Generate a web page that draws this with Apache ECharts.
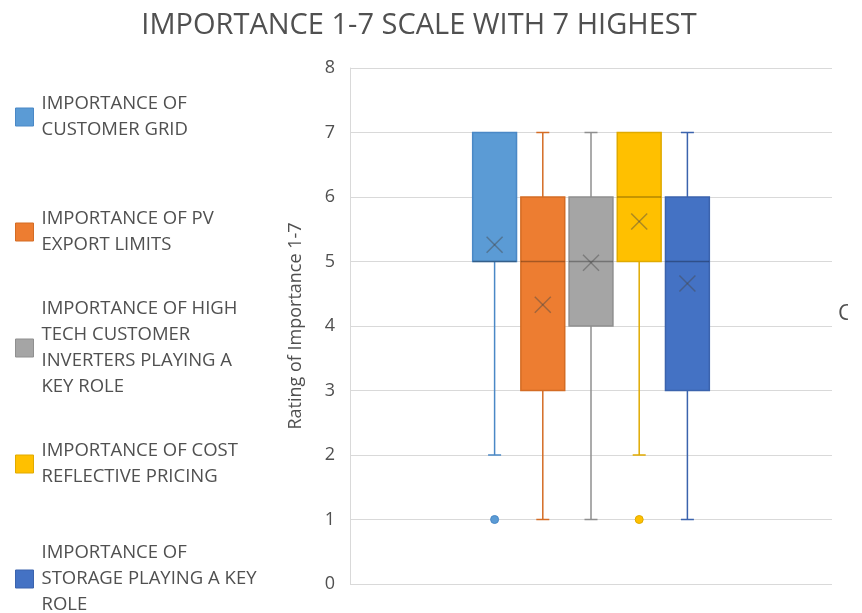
<!DOCTYPE html>
<html>
<head>
<meta charset="utf-8">
<script src="https://cdn.jsdelivr.net/npm/echarts@6/dist/echarts.min.js"></script>
<style>
  html, body { margin: 0; padding: 0; background: #fff; }
  #main { width: 862px; height: 613px; }
</style>
</head>
<body>
<div id="main"></div>
<script>
// series names + the wrapped legend text
const names = [
  'IMPORTANCE OF CUSTOMER GRID',
  'IMPORTANCE OF PV EXPORT LIMITS',
  'IMPORTANCE OF HIGH TECH CUSTOMER INVERTERS PLAYING A KEY ROLE',
  'IMPORTANCE OF COST REFLECTIVE PRICING',
  'IMPORTANCE OF STORAGE PLAYING A KEY ROLE'
]
const legendLabels = [
  'IMPORTANCE OF\nCUSTOMER GRID',
  'IMPORTANCE OF PV\nEXPORT LIMITS',
  'IMPORTANCE OF HIGH\nTECH CUSTOMER\nINVERTERS PLAYING A\nKEY ROLE',
  'IMPORTANCE OF COST\nREFLECTIVE PRICING',
  'IMPORTANCE OF\nSTORAGE PLAYING A KEY\nROLE'
]

// box stats
const whiskerLow = [2, 1, 1, 2, 1]
const q1 = [5, 3, 4, 5, 3]
const median = [5, 5, 5, 6, 5]
const q3 = [7, 6, 6, 7, 6]
const whiskerHigh = [7, 7, 7, 7, 7]
const means = [5.26, 4.33, 4.98, 5.62, 4.66]
const outliers = [[1], [], [], [1], []]

const yTicks = [0, 1, 2, 3, 4, 5, 6, 7, 8]

const fillColors = ['#5B9BD5', '#ED7D31', '#A5A5A5', '#FFC000', '#4472C4']
const lineColors = ['#4a88c6', '#d46c24', '#8f8f8f', '#e0aa00', '#3b63ad']

const FONT = '"Open Sans", sans-serif'
const TXT = '#505050'

const myChart = echarts.init(document.getElementById('main'))

const renderBox = (params, api) => {
  const k = params.seriesIndex
  const x = api.value(0)
  const pLow = api.coord([x, api.value(1)])
  const pQ1 = api.coord([x, api.value(2)])
  const pMed = api.coord([x, api.value(3)])
  const pQ3 = api.coord([x, api.value(4)])
  const pHigh = api.coord([x, api.value(5)])
  const pMean = api.coord([x, api.value(6)])
  const w = api.size([0.91, 0])[0]
  const cx = pMed[0]
  const cap = 6.5
  const lineStyle = { stroke: lineColors[k], lineWidth: 1.5 }
  const kids = []
  // whiskers
  if (pHigh[1] < pQ3[1]) {
    kids.push({ type: 'line', shape: { x1: cx, y1: pQ3[1], x2: cx, y2: pHigh[1] }, style: lineStyle })
    kids.push({ type: 'line', shape: { x1: cx - cap, y1: pHigh[1], x2: cx + cap, y2: pHigh[1] }, style: lineStyle })
  }
  if (pLow[1] > pQ1[1]) {
    kids.push({ type: 'line', shape: { x1: cx, y1: pQ1[1], x2: cx, y2: pLow[1] }, style: lineStyle })
    kids.push({ type: 'line', shape: { x1: cx - cap, y1: pLow[1], x2: cx + cap, y2: pLow[1] }, style: lineStyle })
  }
  // box
  kids.push({
    type: 'rect',
    shape: { x: cx - w / 2, y: pQ3[1], width: w, height: pQ1[1] - pQ3[1] },
    style: { fill: fillColors[k], stroke: lineColors[k], lineWidth: 1.5 }
  })
  // median
  kids.push({
    type: 'line',
    shape: { x1: cx - w / 2, y1: pMed[1], x2: cx + w / 2, y2: pMed[1] },
    style: { stroke: 'rgba(0,0,0,0.3)', lineWidth: 1.5 }
  })
  // mean marker (x)
  const m = 8
  const xStyle = { stroke: 'rgba(70,70,70,0.45)', lineWidth: 1.5 }
  kids.push({ type: 'line', shape: { x1: pMean[0] - m, y1: pMean[1] - m, x2: pMean[0] + m, y2: pMean[1] + m }, style: xStyle })
  kids.push({ type: 'line', shape: { x1: pMean[0] - m, y1: pMean[1] + m, x2: pMean[0] + m, y2: pMean[1] - m }, style: xStyle })
  // outlier dots
  outliers[k].forEach(v => {
    const p = api.coord([x, v])
    kids.push({ type: 'circle', shape: { cx: p[0], cy: p[1], r: 4 }, style: { fill: fillColors[k], stroke: lineColors[k], lineWidth: 1 } })
  })
  return { type: 'group', children: kids }
}

// one legend block per series so the centres are spaced evenly like excel
const legendCentres = [112, 227, 343, 459, 574]
const legends = names.map((n, i) => {
  const lines = legendLabels[i].split('\n').length
  return {
    orient: 'vertical',
    left: 10,
    top: legendCentres[i] - lines * 13,
    icon: 'rect',
    itemWidth: 18,
    itemHeight: 18,
    itemGap: 0,
    formatter: () => legendLabels[i],
    textStyle: { color: TXT, fontSize: 18.5, lineHeight: 26, fontFamily: FONT, padding: [0, 0, 0, 3] },
    data: [{ name: n, itemStyle: { borderColor: lineColors[i], borderWidth: 1 } }]
  }
})

const option = {
  backgroundColor: '#fff',
  animation: false,
  title: {
    text: 'IMPORTANCE 1-7 SCALE WITH 7 HIGHEST',
    left: 414,
    textAlign: 'center',
    top: 6,
    textStyle: { color: TXT, fontSize: 29, fontWeight: 'normal', fontFamily: FONT }
  },
  legend: legends,
  grid: { left: 350, right: 30, top: 68, bottom: 29 },
  xAxis: {
    type: 'value',
    min: -3,
    max: 7,
    show: false
  },
  yAxis: {
    type: 'value',
    min: yTicks[0],
    max: yTicks[yTicks.length - 1],
    interval: 1,
    name: 'Rating of Importance 1-7',
    nameLocation: 'middle',
    nameGap: 45,
    nameTextStyle: { color: TXT, fontSize: 18, fontFamily: FONT },
    axisLine: { show: true, onZero: false, lineStyle: { color: '#d9d9d9', width: 1 } },
    axisTick: { show: false },
    axisLabel: { color: TXT, fontSize: 18, margin: 15, fontFamily: FONT },
    splitLine: { lineStyle: { color: '#d9d9d9', width: 1 } }
  },
  graphic: [
    { type: 'text', left: 838, top: 303, style: { text: 'C', fill: TXT, fontSize: 22, fontFamily: FONT } },
    { type: 'rect', left: 848, top: 290, shape: { width: 20, height: 40 }, style: { fill: '#fff' } }
  ],
  series: names.map((n, i) => ({
    name: n,
    type: 'custom',
    renderItem: renderBox,
    itemStyle: { color: fillColors[i], borderColor: lineColors[i] },
    encode: { x: 0, y: [1, 2, 3, 4, 5, 6] },
    data: [[i, whiskerLow[i], q1[i], median[i], q3[i], whiskerHigh[i], means[i]]]
  }))
}

myChart.setOption(option)
window.addEventListener('resize', myChart.resize)
</script>
</body>
</html>
